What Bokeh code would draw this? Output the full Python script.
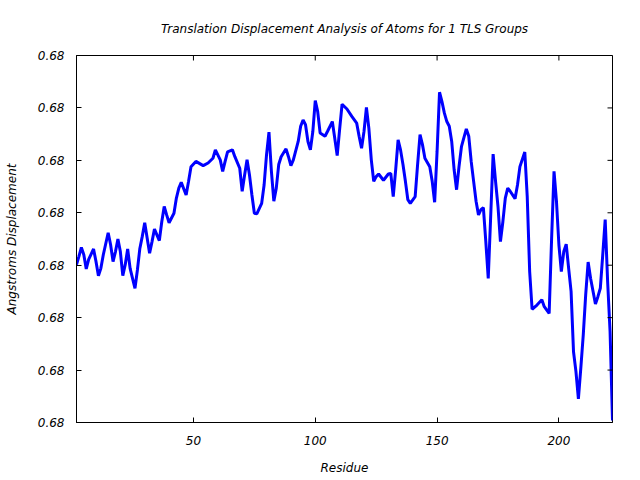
import math
from bokeh.plotting import figure
from bokeh.models import FixedTicker, NumeralTickFormatter, Range1d
from bokeh.embed import file_html
from bokeh.resources import INLINE

residue = [2, 3, 4, 5, 6, 7, 9, 10, 11, 12, 13, 15, 16, 17, 18, 19, 20, 21, 22, 23,
           24, 26, 27, 28, 29, 30, 31, 32, 33, 34, 35, 36, 37, 38, 39, 40, 42, 43, 44, 45,
           46, 47, 48, 49, 51, 54, 56, 58, 59, 61, 62, 63, 64, 66, 67, 69, 70, 71, 72, 73,
           74, 75, 76, 78, 79, 80, 81, 82, 83, 84, 85, 86, 88, 89, 90, 91, 93, 94, 95, 96,
           97, 98, 99, 100, 101, 102, 104, 105, 107, 108, 109, 110, 111, 113, 115, 117, 118, 119, 120, 121,
           122, 123, 124, 125, 126, 128, 130, 131, 132, 133, 134, 135, 136, 137, 138, 139, 141, 142, 143, 144,
           145, 147, 148, 149, 150, 151, 152, 153, 154, 155, 156, 157, 158, 159, 160, 162, 163, 164, 165, 166,
           167, 168, 169, 170, 171, 172, 173, 174, 175, 176, 177, 178, 179, 180, 182, 183, 184, 186, 187, 188,
           189, 191, 193, 194, 196, 197, 198, 199, 200, 201, 202, 203, 204, 205, 206, 207, 208, 209, 210, 211,
           212, 213, 215, 216, 217, 218, 219, 220, 221, 222]
displacement = [0.680101, 0.680117, 0.680134, 0.680120, 0.680093, 0.680111, 0.680131, 0.680107, 0.680080, 0.680094,
                0.680120, 0.680162, 0.680139, 0.680107, 0.680126, 0.680150, 0.680126, 0.680080, 0.680101, 0.680131,
                0.680094, 0.680056, 0.680091, 0.680132, 0.680155, 0.680181, 0.680152, 0.680123, 0.680145, 0.680169,
                0.680158, 0.680147, 0.680183, 0.680212, 0.680196, 0.680181, 0.680199, 0.680228, 0.680247, 0.680258,
                0.680246, 0.680234, 0.680260, 0.680288, 0.680298, 0.680290, 0.680295, 0.680304, 0.680320, 0.680301,
                0.680279, 0.680298, 0.680316, 0.680320, 0.680307, 0.680285, 0.680241, 0.680272, 0.680301, 0.680272,
                0.680234, 0.680199, 0.680198, 0.680218, 0.680253, 0.680311, 0.680354, 0.680279, 0.680222, 0.680247,
                0.680292, 0.680307, 0.680322, 0.680307, 0.680290, 0.680301, 0.680336, 0.680365, 0.680377, 0.680368,
                0.680336, 0.680320, 0.680355, 0.680414, 0.680393, 0.680352, 0.680346, 0.680355, 0.680374, 0.680342,
                0.680309, 0.680359, 0.680407, 0.680398, 0.680384, 0.680371, 0.680346, 0.680323, 0.680355, 0.680401,
                0.680361, 0.680301, 0.680260, 0.680269, 0.680274, 0.680262, 0.680274, 0.680275, 0.680231, 0.680282,
                0.680339, 0.680320, 0.680292, 0.680260, 0.680225, 0.680218, 0.680231, 0.680292, 0.680349, 0.680330,
                0.680304, 0.680288, 0.680260, 0.680220, 0.680317, 0.680430, 0.680412, 0.680390, 0.680374, 0.680365,
                0.680336, 0.680282, 0.680244, 0.680288, 0.680326, 0.680360, 0.680346, 0.680298, 0.680260, 0.680222,
                0.680196, 0.680206, 0.680210, 0.680145, 0.680075, 0.680193, 0.680312, 0.680260, 0.680212, 0.680145,
                0.680183, 0.680228, 0.680247, 0.680241, 0.680227, 0.680253, 0.680288, 0.680316, 0.680231, 0.680088,
                0.680016, 0.680024, 0.680034, 0.680021, 0.680008, 0.680150, 0.680279, 0.680222, 0.680139, 0.680088,
                0.680126, 0.680140, 0.680094, 0.680050, 0.679935, 0.679897, 0.679845, 0.679904, 0.679967, 0.680044,
                0.680106, 0.680075, 0.680026, 0.680040, 0.680056, 0.680120, 0.680187, 0.680069, 0.679974, 0.679804,
                0.679891, 0.680101]

x_ticks = [50, 100, 150, 200]
y_ticks = [0.6798, 0.6799, 0.6800, 0.6801, 0.6802, 0.6803, 0.6804, 0.6805]
x_min, x_max = 2, 222

FONT = "DejaVu Sans"

p = figure(frame_width=536, frame_height=367, output_backend="svg", toolbar_location=None,
           x_range=Range1d(x_min, x_max), y_range=Range1d(y_ticks[0], y_ticks[-1]),
           min_border_left=76, min_border_top=54, min_border_right=20, min_border_bottom=50,
           title="Translation Displacement Analysis of Atoms for 1 TLS Groups")

p.title.align = "center"
p.title.text_font = FONT
p.title.text_font_style = "italic"
p.title.text_font_size = "12px"
p.title.text_color = "black"
p.title.standoff = 39

p.background_fill_color = "white"
p.border_fill_color = "white"
p.outline_line_color = "black"
p.outline_line_width = 1
p.xgrid.visible = False
p.ygrid.visible = False

p.line(residue, displacement, line_color="#0000ff", line_width=3)

# mirrored inward ticks on the top and right edges
p.scatter(x=x_ticks, y=[y_ticks[-1]] * len(x_ticks), marker="dash", angle=math.pi / 2,
          size=10, line_color="black", line_width=1)
p.scatter(x=[x_max] * len(y_ticks), y=y_ticks, marker="dash",
          size=10, line_color="black", line_width=1)

def style_axis(ax, ticks):
    ax.ticker = FixedTicker(ticks=ticks)
    ax.major_tick_in = 5
    ax.major_tick_out = 0
    ax.minor_tick_line_color = None
    ax.axis_line_color = "black"
    ax.major_tick_line_color = "black"
    ax.major_label_text_font = FONT
    ax.major_label_text_font_style = "italic"
    ax.major_label_text_font_size = "12px"
    ax.major_label_text_color = "black"
    ax.axis_label_text_font = FONT
    ax.axis_label_text_font_style = "italic"
    ax.axis_label_text_font_size = "12px"
    ax.axis_label_text_color = "black"

xa = p.xaxis[0]
style_axis(xa, x_ticks)
xa.axis_label = "Residue"
xa.major_label_standoff = 13
xa.axis_label_standoff = 13

ya = p.yaxis[0]
style_axis(ya, y_ticks)
ya.axis_label = "Angstroms Displacement"
ya.formatter = NumeralTickFormatter(format="0.00")
ya.major_label_standoff = 12
ya.axis_label_standoff = 16

open("out.html", "w").write(file_html(p, INLINE))
